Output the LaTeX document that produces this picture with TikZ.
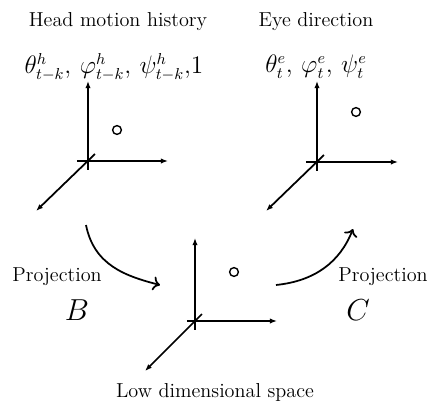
\documentclass[tikz,border=0pt]{standalone}
\usepackage{amsmath}
\usetikzlibrary{arrows.meta}

\begin{document}
\begin{tikzpicture}[x=0.02cm, y=-0.02cm, font=\fontsize{11.5}{13}\selectfont,
    axis/.style={line width=1pt, -{Latex[length=4pt, width=3pt]}},
    tick/.style={line width=1pt},
    proj/.style={line width=1pt, -{To[length=4pt, width=8pt]}},
    pt/.style={circle, draw, line width=0.8pt, inner sep=0pt, minimum size=5pt}]

% --- Cadre ---
\useasboundingbox (0,0) rectangle (427,403);

% --- Origines des trois repères ---
\coordinate (oH) at (88,161);
\coordinate (oE) at (317,162);
\coordinate (oL) at (195,321);

% --- Repère : historique de la tête ---
\draw[axis] (oH) -- ++(0,-80);
\draw[axis] ([xshift=-11*0.02cm]oH) -- ++(91,0);
\draw[tick] (oH) -- ++(0,9);
\draw[axis] ([shift={(7*0.02cm,7*0.02cm)}]oH) -- (36,211);
\node[pt] (dH) at (117,130) {};

% --- Repère : direction du regard ---
\draw[axis] (oE) -- ++(0,-81);
\draw[axis] ([xshift=-11*0.02cm]oE) -- ++(92,0);
\draw[tick] (oE) -- ++(0,9);
\draw[axis] ([shift={(7*0.02cm,7*0.02cm)}]oE) -- (266,211);
\node[pt] (dE) at (356,112) {};

% --- Repère : espace de faible dimension ---
\draw[axis] (oL) -- ++(0,-83);
\draw[axis] ([xshift=-8*0.02cm]oL) -- ++(90,0);
\draw[tick] (oL) -- ++(0,9);
\draw[axis] ([shift={(7*0.02cm,7*0.02cm)}]oL) -- (145,371);
\node[pt] (dL) at (234,272) {};

% --- Titres ---
\node (tH) at (118,22) {Head motion history};
\node (tE) at (316,22) {Eye direction};
\node (tL) at (215,392) {Low dimensional space};

% --- Variables ---
\node[font=\fontsize{13.5}{15}\selectfont] (vH) at (114,67)
    {$\theta^h_{t-k},\, \varphi^h_{t-k},\, \psi^h_{t-k},\! 1$};
\node[font=\fontsize{13.5}{15}\selectfont] (vE) at (316,67)
    {$\theta^e_{t},\, \varphi^e_{t},\, \psi^e_{t}$};

% --- Projections ---
\coordinate (pB1) at (86,225);
\coordinate (pB2) at (160,285);
\coordinate (pC1) at (276,285);
\coordinate (pC2) at (353,229);
\draw[proj] (pB1) .. controls (94,265) and (125,276) .. (pB2);
\draw[proj] (pC1) .. controls (315,281) and (340,262) .. (pC2);

\node (lB) at (57,277) {Projection};
\node[font=\LARGE] (mB) at (77,310) {$B$};
\node (lC) at (383,277) {Projection};
\node[font=\LARGE] (mC) at (358,310) {$C$};

\end{tikzpicture}
\end{document}
